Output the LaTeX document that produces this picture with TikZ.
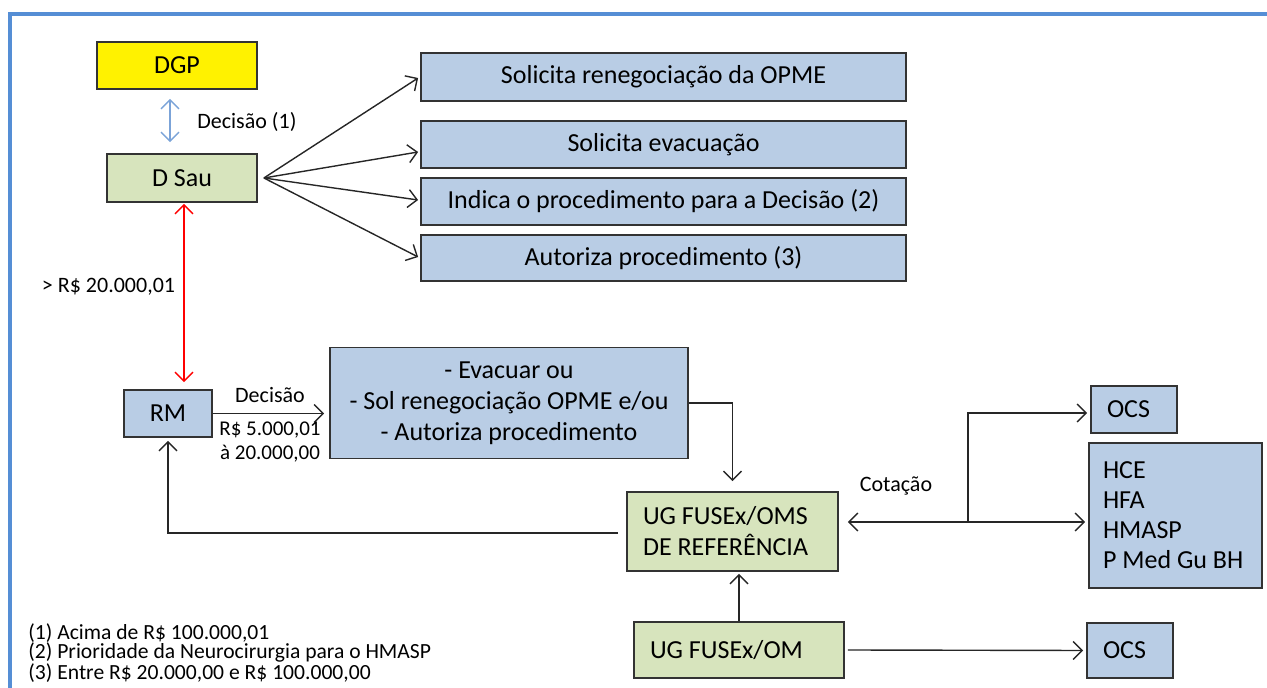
\documentclass[tikz,border=0pt]{standalone}
\usepackage{fontspec}
\setmainfont{Carlito}
\usetikzlibrary{calc,arrows.meta}

\begin{document}
\begin{tikzpicture}[x=0.5pt, y=-0.5pt,
  box/.style={draw=black!80, line width=0.9pt, inner sep=0pt, font=\fontsize{13}{15.5}\selectfont},
  leftbox/.style={box, align=left, execute at begin node={\spaceskip=0pt\xspaceskip=0pt\relax}},
  arr/.style={draw=black!85, line width=0.7pt, -{Straight Barb[length=4.5pt,width=9pt]}},
  lbl/.style={inner sep=0pt, font=\fontsize{11}{12.5}\selectfont}]

%─────────────
% Controls
%─────────────
\definecolor{boxblue}{HTML}{B9CDE5}    % light blue boxes
\definecolor{boxgreen}{HTML}{D7E4BD}   % light green boxes
\definecolor{frameblue}{HTML}{558ED5}  % outer frame
\definecolor{arrowblue}{HTML}{7BA3D8}  % DGP <-> D Sau

\useasboundingbox (0,0) rectangle (1267,688);

% frame (only top and left show)
\draw[frameblue, line width=2pt] (10,688) -- (10,14) -- (1267,14);

%─────────────
% Top: DGP / D Sau and the four decisions
%─────────────
\node[box, fill=yellow, minimum width=80pt, minimum height=23.5pt] (dgp) at (177,65.5) {DGP};
\node[box, fill=boxgreen, minimum width=75pt, minimum height=24pt] (dsau) at (182,178) {D Sau};

\node[box, fill=boxblue, minimum width=242.5pt, minimum height=24pt] (reneg) at (663.5,77) {Solicita renegociação da OPME};
\node[box, fill=boxblue, minimum width=242.5pt, minimum height=23.5pt] (evac) at (663.5,144.5) {Solicita evacuação};
\node[box, fill=boxblue, minimum width=242.5pt, minimum height=23.5pt] (indica) at (663.5,201.5) {Indica o procedimento para a Decisão (2)};
\node[box, fill=boxblue, minimum width=242.5pt, minimum height=23pt] (autoriza) at (663.5,258) {Autoriza procedimento (3)};

\coordinate (dgpout) at ([xshift=-3.5pt,yshift=-4.5pt]dgp.south);
\draw[arr, draw=arrowblue, {Straight Barb[length=4.5pt,width=9pt]}-{Straight Barb[length=4.5pt,width=9pt]}]
  (dgpout) -- ([yshift=5.5pt]dgpout |- dsau.north);
\node[lbl, anchor=west] (decisao1) at (197,122) {Decisão (1)};

% fan out of D Sau
\coordinate (fan) at ([xshift=3pt]dsau.east);
\draw[arr] (fan) -- ([xshift=-1pt,yshift=-0.5pt]reneg.west);
\draw[arr] (fan) -- ([xshift=-1pt,yshift=-3.75pt]evac.west);
\draw[arr] (fan) -- ([xshift=-1pt,yshift=0.75pt]indica.west);
\draw[arr] (fan) -- ([xshift=-1pt,yshift=0.5pt]autoriza.west);

%─────────────
% Middle: RM and its decision
%─────────────
\node[box, fill=boxblue, minimum width=44pt, minimum height=23.5pt] (rm) at (168,413.5) {RM};
\node[box, fill=boxblue, minimum width=179pt, minimum height=55.5pt, align=center] (acoes) at (509,403)
  {- Evacuar ou\\- Sol renegociação OPME e/ou\\- Autoriza procedimento};

\draw[draw=red, line width=0.7pt, {Straight Barb[length=4.5pt,width=9pt]}-{Straight Barb[length=4.5pt,width=9pt]}]
  ([xshift=1pt,yshift=-0.5pt]dsau.south) -- ([xshift=8pt,yshift=3.5pt]rm.north);
\node[lbl] (limite) at (108.5,287) {> R\$ 20.000,01};

\draw[arr, shorten >=2.5pt] (rm.east) -- (rm.east -| acoes.west);
\node[lbl, anchor=south] (decisao) at (270,403) {Decisão};
\node[lbl, anchor=north, align=center, font=\fontsize{10.5}{12}\selectfont] (faixa) at (270,421) {R\$ 5.000,01\\à 20.000,00};

%─────────────
% Bottom: UG FUSEx and the OCS
%─────────────
\node[leftbox, fill=boxgreen, minimum width=105.5pt, minimum height=39.5pt, text width=89.5pt] (ugref) at (732.5,531.5)
  {UG FUSEx/OMS\\DE REFERÊNCIA};
\node[leftbox, fill=boxgreen, minimum width=105pt, minimum height=28pt, text width=89pt] (ugom) at (739,650) {UG FUSEx/OM};
\node[leftbox, fill=boxblue, minimum width=43pt, minimum height=23.5pt, text width=27pt] (ocsa) at (1134,409.5) {OCS};
\node[leftbox, fill=boxblue, minimum width=86.5pt, minimum height=72.5pt, text width=72.5pt,
  font=\fontsize{13}{15}\selectfont] (hosp) at (1175.5,515.5) {HCE\\HFA\\HMASP\\P Med Gu BH};
\node[leftbox, fill=boxblue, minimum width=43pt, minimum height=27.5pt, text width=27pt] (ocsb) at (1130,650.5) {OCS};

\draw[arr] (acoes.east) -| ([yshift=5pt]ugref.north);
\draw[arr] ([xshift=-4pt,yshift=-0.75pt]ugref.west) -| ([yshift=-1.5pt]rm.south);
\draw[arr, shorten >=1pt] (ugom.north) -- (ugom.north |- ugref.south);
\draw[arr, shorten >=1.5pt] ([xshift=1.5pt]ugom.east) -- (ocsb.west);

% cotacao split
\coordinate (split) at (968,522);
\draw[arr, shorten >=4.5pt] (split) -- (split -| ugref.east);
\draw[arr, shorten >=1.5pt] (split) |- ([yshift=-1.75pt]ocsa.west);
\draw[arr, shorten >=1.5pt] (split) -- (split -| hosp.west);
\node[lbl] (cotacao) at (896,486) {Cotação};

%─────────────
% Notes
%─────────────
\node[lbl, anchor=west, align=left, font=\fontsize{10.8}{9.6}\selectfont] (notas) at (28,653)
  {(1) Acima de R\$ 100.000,01\\(2) Prioridade da Neurocirurgia para o HMASP\\(3) Entre R\$ 20.000,00 e R\$ 100.000,00};

\end{tikzpicture}
\end{document}
